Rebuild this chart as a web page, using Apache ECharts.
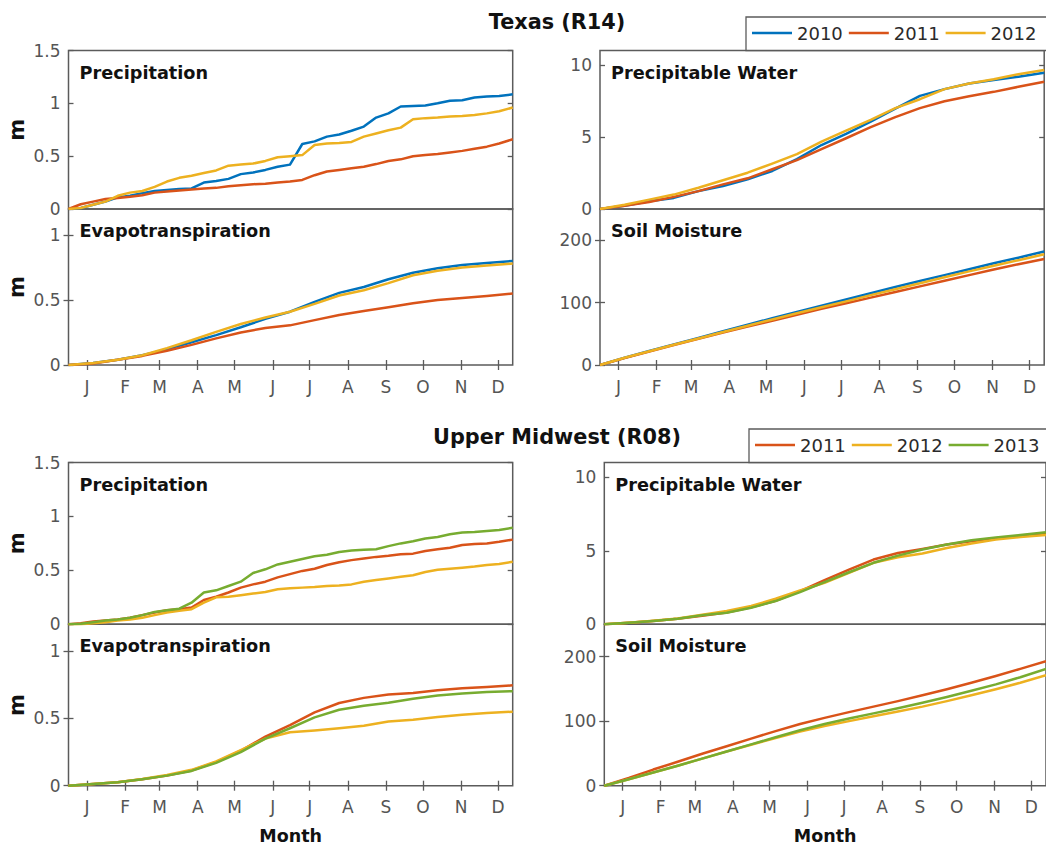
<!DOCTYPE html>
<html>
<head>
<meta charset="utf-8">
<script src="https://cdn.jsdelivr.net/npm/echarts@6/dist/echarts.min.js"></script>
<style>
  html, body { margin: 0; padding: 0; background: #ffffff; overflow: hidden; }
  #chart { width: 1046px; height: 849px; }
</style>
</head>
<body>
<div id="chart"></div>
<script>
// ---- Axis ticks -------------------------------------------------------
const monthDays = [15, 46, 74, 105, 135, 166, 196, 227, 258, 288, 319, 349];
const monthLetters = ['J', 'F', 'M', 'A', 'M', 'J', 'J', 'A', 'S', 'O', 'N', 'D'];
const precipTicks = [0, 0.5, 1, 1.5];
const etTicks = [0, 0.5, 1];
const pwTicks = [0, 5, 10];
const smTicks = [0, 100, 200];

// ---- Day-of-year sample points ---------------------------------------
const precipDays = [0, 10, 20, 30, 40, 50, 60, 70, 80, 90, 100, 110, 120, 130, 140, 150, 160, 170, 180,
  190, 200, 210, 220, 230, 240, 250, 260, 270, 280, 290, 300, 310, 320, 330, 340, 350, 361];
const smoothDays = [0, 20, 40, 60, 80, 100, 120, 140, 160, 180, 200, 220, 240, 260, 280, 300, 320, 340, 361];

// ---- Texas (R14): cumulative values ----------------------------------
const txPrecip2010 = [0, 0.01, 0.04, 0.07, 0.11, 0.125, 0.15, 0.17, 0.18, 0.19, 0.195, 0.25, 0.265, 0.285, 0.33, 0.345, 0.37, 0.40, 0.42,
  0.615, 0.64, 0.685, 0.705, 0.74, 0.78, 0.865, 0.905, 0.97, 0.975, 0.98, 1.0, 1.025, 1.03, 1.055, 1.065, 1.07, 1.085];
const txPrecip2011 = [0, 0.045, 0.07, 0.095, 0.105, 0.115, 0.13, 0.155, 0.165, 0.175, 0.185, 0.195, 0.20, 0.215, 0.225, 0.235, 0.24, 0.25, 0.26,
  0.275, 0.32, 0.355, 0.37, 0.385, 0.40, 0.425, 0.455, 0.47, 0.50, 0.51, 0.52, 0.535, 0.55, 0.57, 0.59, 0.62, 0.66];
const txPrecip2012 = [0, 0.01, 0.04, 0.07, 0.125, 0.155, 0.17, 0.21, 0.26, 0.295, 0.315, 0.34, 0.365, 0.41, 0.42, 0.43, 0.455, 0.49, 0.50,
  0.51, 0.605, 0.62, 0.625, 0.635, 0.685, 0.715, 0.745, 0.77, 0.85, 0.86, 0.865, 0.875, 0.88, 0.89, 0.905, 0.925, 0.96];

const txEt2010 = [0, 0.015, 0.04, 0.075, 0.12, 0.175, 0.23, 0.29, 0.355, 0.41, 0.485, 0.555, 0.60, 0.66, 0.71, 0.745, 0.77, 0.785, 0.80];
const txEt2011 = [0, 0.012, 0.04, 0.07, 0.11, 0.155, 0.205, 0.25, 0.285, 0.305, 0.345, 0.385, 0.415, 0.445, 0.475, 0.50, 0.515, 0.53, 0.55];
const txEt2012 = [0, 0.015, 0.04, 0.075, 0.13, 0.19, 0.255, 0.315, 0.365, 0.41, 0.47, 0.535, 0.575, 0.63, 0.69, 0.725, 0.75, 0.765, 0.78];

const txPw2010 = [0, 0.23, 0.54, 0.77, 1.24, 1.59, 2.06, 2.64, 3.46, 4.44, 5.21, 6.07, 6.96, 7.85, 8.32, 8.71, 8.95, 9.18, 9.46];
const txPw2011 = [0, 0.23, 0.49, 0.84, 1.24, 1.71, 2.13, 2.76, 3.39, 4.16, 4.91, 5.68, 6.38, 7.0, 7.48, 7.83, 8.13, 8.48, 8.83];
const txPw2012 = [0, 0.30, 0.65, 1.0, 1.47, 2.0, 2.52, 3.15, 3.81, 4.67, 5.44, 6.19, 7.0, 7.62, 8.32, 8.71, 9.0, 9.35, 9.65];

const txSm2010 = [0, 11.5, 22.5, 33, 43.5, 54, 64.5, 75, 85, 95, 105, 115, 125, 134.5, 144, 153.5, 163, 172, 182];
const txSm2011 = [0, 11, 21.5, 32, 42, 52, 61.5, 71, 80.5, 90, 99, 108, 117, 126, 135, 144, 153, 161.5, 170];
const txSm2012 = [0, 11.5, 22, 32.5, 42.5, 53, 63, 73, 83, 92.5, 102, 112, 121.5, 131, 140.5, 150, 159, 168, 177.5];

// ---- Upper Midwest (R08): cumulative values --------------------------
const umPrecip2011 = [0, 0.01, 0.025, 0.035, 0.045, 0.06, 0.085, 0.11, 0.13, 0.14, 0.155, 0.225, 0.255, 0.295, 0.34, 0.37, 0.395, 0.435, 0.465,
  0.495, 0.515, 0.55, 0.575, 0.595, 0.61, 0.625, 0.635, 0.65, 0.655, 0.68, 0.695, 0.71, 0.735, 0.745, 0.75, 0.765, 0.785];
const umPrecip2012 = [0, 0, 0.01, 0.02, 0.035, 0.045, 0.06, 0.085, 0.11, 0.125, 0.14, 0.2, 0.25, 0.255, 0.27, 0.285, 0.30, 0.325, 0.335,
  0.34, 0.345, 0.355, 0.36, 0.37, 0.395, 0.41, 0.425, 0.44, 0.455, 0.485, 0.505, 0.515, 0.525, 0.535, 0.55, 0.56, 0.58];
const umPrecip2013 = [0, 0.005, 0.02, 0.035, 0.045, 0.06, 0.085, 0.115, 0.13, 0.145, 0.2, 0.295, 0.315, 0.355, 0.395, 0.475, 0.51, 0.555, 0.58,
  0.605, 0.63, 0.645, 0.67, 0.685, 0.69, 0.695, 0.725, 0.75, 0.77, 0.795, 0.81, 0.835, 0.85, 0.855, 0.865, 0.875, 0.895];

const umEt2011 = [0, 0.013, 0.025, 0.048, 0.075, 0.113, 0.176, 0.26, 0.365, 0.45, 0.545, 0.615, 0.653, 0.678, 0.69, 0.709, 0.724, 0.734, 0.746];
const umEt2012 = [0, 0.013, 0.025, 0.05, 0.08, 0.118, 0.18, 0.265, 0.35, 0.397, 0.41, 0.427, 0.445, 0.477, 0.49, 0.51, 0.528, 0.54, 0.55];
const umEt2013 = [0, 0.013, 0.025, 0.048, 0.075, 0.11, 0.17, 0.25, 0.35, 0.427, 0.508, 0.565, 0.595, 0.616, 0.646, 0.671, 0.686, 0.696, 0.703];

const umPw2011 = [0, 0.1, 0.22, 0.37, 0.58, 0.8, 1.15, 1.6, 2.26, 3.0, 3.72, 4.4, 4.85, 5.12, 5.42, 5.64, 5.85, 5.98, 6.16];
const umPw2012 = [0, 0.11, 0.24, 0.4, 0.65, 0.9, 1.24, 1.74, 2.3, 2.82, 3.5, 4.18, 4.56, 4.81, 5.19, 5.49, 5.76, 5.94, 6.07];
const umPw2013 = [0, 0.11, 0.23, 0.38, 0.61, 0.79, 1.13, 1.58, 2.19, 2.87, 3.54, 4.18, 4.67, 5.08, 5.42, 5.71, 5.91, 6.07, 6.25];

const umSm2011 = [0, 12, 25, 37, 49.5, 61, 73, 84.5, 95.5, 105, 114, 122.5, 131, 140, 149.5, 159.5, 170, 181, 193];
const umSm2012 = [0, 10, 20.5, 31, 42, 53, 63.5, 74, 84, 92.5, 100, 107.5, 115, 122.5, 131, 140, 149.5, 159.5, 171];
const umSm2013 = [0, 10, 20.5, 31, 42, 53, 64, 75, 86, 95.5, 104, 112, 120, 128.5, 137.5, 147, 157, 168, 181];

// ---- Styling and layout ----------------------------------------------
const FONT = '"DejaVu Sans", Lato, sans-serif';
const AXIS_COLOR = '#5b5b5b';
const LABEL_COLOR = '#555555';
const TEXT_COLOR = '#111111';
const yearColors = { '2010': '#0072BD', '2011': '#D95319', '2012': '#EDB120', '2013': '#77AC30' };
const X_MAX = 361;

const sections = {
  tx: { top: 50.5, mid: 209, bottom: 365, leftX: 68.5, rightX: 600, width: 444.2 },
  um: { top: 462.5, mid: 624.3, bottom: 785.7, leftX: 68.5, rightX: 604.3, width: 444.2 }
};

const kinds = {
  precip: { max: 1.5, ticks: precipTicks, days: precipDays },
  et:     { max: 1.2, ticks: etTicks,     days: smoothDays },
  pw:     { max: 11,  ticks: pwTicks,     days: smoothDays },
  sm:     { max: 250, ticks: smTicks,     days: smoothDays }
};

const panels = [
  { sec: 'tx', col: 'left',  row: 'upper', kind: 'precip', label: 'Precipitation',
    lines: [['2010', txPrecip2010], ['2011', txPrecip2011], ['2012', txPrecip2012]] },
  { sec: 'tx', col: 'left',  row: 'lower', kind: 'et', label: 'Evapotranspiration',
    lines: [['2010', txEt2010], ['2011', txEt2011], ['2012', txEt2012]] },
  { sec: 'tx', col: 'right', row: 'upper', kind: 'pw', label: 'Precipitable Water',
    lines: [['2010', txPw2010], ['2011', txPw2011], ['2012', txPw2012]] },
  { sec: 'tx', col: 'right', row: 'lower', kind: 'sm', label: 'Soil Moisture',
    lines: [['2010', txSm2010], ['2011', txSm2011], ['2012', txSm2012]] },
  { sec: 'um', col: 'left',  row: 'upper', kind: 'precip', label: 'Precipitation',
    lines: [['2011', umPrecip2011], ['2012', umPrecip2012], ['2013', umPrecip2013]] },
  { sec: 'um', col: 'left',  row: 'lower', kind: 'et', label: 'Evapotranspiration',
    lines: [['2011', umEt2011], ['2012', umEt2012], ['2013', umEt2013]] },
  { sec: 'um', col: 'right', row: 'upper', kind: 'pw', label: 'Precipitable Water',
    lines: [['2011', umPw2011], ['2012', umPw2012], ['2013', umPw2013]] },
  { sec: 'um', col: 'right', row: 'lower', kind: 'sm', label: 'Soil Moisture',
    lines: [['2011', umSm2011], ['2012', umSm2012], ['2013', umSm2013]] }
];

const grid = [], xAxis = [], yAxis = [], series = [], graphic = [];

const tickStyle = { color: AXIS_COLOR, width: 1.3 };

panels.forEach((p, gi) => {
  const s = sections[p.sec];
  const k = kinds[p.kind];
  const left = p.col === 'left' ? s.leftX : s.rightX;
  const top = p.row === 'upper' ? s.top : s.mid;
  const height = p.row === 'upper' ? s.mid - s.top : s.bottom - s.mid;
  const isLower = p.row === 'lower';

  grid.push({ left, top, width: s.width, height, show: true,
    borderColor: AXIS_COLOR, borderWidth: 1.5, backgroundColor: 'transparent' });

  // bottom x axis (month letters on the lower panels)
  const xi = xAxis.length;
  xAxis.push({
    type: 'value', gridIndex: gi, min: 0, max: X_MAX, position: 'bottom',
    axisLine: { show: false }, splitLine: { show: false },
    axisTick: { show: isLower, inside: true, length: 5, customValues: monthDays, lineStyle: tickStyle },
    axisLabel: { show: isLower, customValues: monthDays, margin: 13,
      fontSize: 17, fontFamily: FONT, color: LABEL_COLOR,
      formatter: v => monthLetters[monthDays.indexOf(v)] || '' },
    name: (isLower && p.sec === 'um') ? 'Month' : '',
    nameLocation: 'middle', nameGap: 41,
    nameTextStyle: { fontSize: 17.5, fontWeight: 'bold', fontFamily: FONT, color: TEXT_COLOR }
  });
  // mirrored ticks along the top edge of the lower panels
  if (isLower) {
    xAxis.push({
      type: 'value', gridIndex: gi, min: 0, max: X_MAX, position: 'top',
      axisLine: { show: false }, splitLine: { show: false },
      axisTick: { show: true, inside: true, length: 5, customValues: monthDays, lineStyle: tickStyle },
      axisLabel: { show: false }
    });
  }

  const yi = yAxis.length;
  yAxis.push({
    type: 'value', gridIndex: gi, min: 0, max: k.max, position: 'left',
    axisLine: { show: false }, splitLine: { show: false },
    axisTick: { show: true, inside: true, length: 5, customValues: k.ticks, lineStyle: tickStyle },
    axisLabel: { customValues: k.ticks, margin: 8, fontSize: 17, fontFamily: FONT, color: LABEL_COLOR,
      formatter: v => String(v) },
    name: p.col === 'left' ? 'm' : '',
    nameLocation: 'middle', nameGap: 41,
    nameTextStyle: { fontSize: 21, fontWeight: 'bold', fontFamily: FONT, color: TEXT_COLOR }
  });
  yAxis.push({
    type: 'value', gridIndex: gi, min: 0, max: k.max, position: 'right',
    axisLine: { show: false }, splitLine: { show: false },
    axisTick: { show: true, inside: true, length: 5, customValues: k.ticks, lineStyle: tickStyle },
    axisLabel: { show: false }
  });

  p.lines.forEach(([name, values]) => {
    series.push({
      type: 'line', name, xAxisIndex: xi, yAxisIndex: yi,
      data: k.days.map((d, j) => [d, values[j]]),
      symbol: 'none', showSymbol: false, smooth: false,
      lineStyle: { width: 2.5, color: yearColors[name], join: 'round' },
      itemStyle: { color: yearColors[name] },
      emphasis: { disabled: true }
    });
  });

  graphic.push({
    type: 'text', x: left + 11, y: top + 22, z: 10,
    style: { text: p.label, fontSize: 17.7, fontWeight: 'bold', fontFamily: FONT, fill: TEXT_COLOR,
      textAlign: 'left', align: 'left', textVerticalAlign: 'middle', verticalAlign: 'middle' }
  });
});

// section headings
[['Texas (R14)', 557, 22], ['Upper Midwest (R08)', 557, 437]].forEach(([text, x, y]) => {
  graphic.push({
    type: 'text', x, y, z: 10,
    style: { text, fontSize: 20.8, fontWeight: 'bold', fontFamily: FONT, fill: TEXT_COLOR,
      textAlign: 'center', align: 'center', textVerticalAlign: 'middle', verticalAlign: 'middle' }
  });
});

// legend frames: open on the right, where they run past the edge of the page
const legendFrames = [
  { left: 746, top: 17, bottom: 50.5 },
  { left: 749, top: 429, bottom: 462.5 }
];
legendFrames.forEach(f => {
  graphic.push({
    type: 'rect', z: 3, silent: true,
    shape: { x: f.left, y: f.top, width: 320, height: f.bottom - f.top },
    style: { fill: '#ffffff', stroke: null }
  });
  graphic.push({
    type: 'polyline', z: 3, silent: true,
    shape: { points: [[1080, f.top], [f.left, f.top], [f.left, f.bottom], [1080, f.bottom]] },
    style: { fill: null, stroke: AXIS_COLOR, lineWidth: 1.3 }
  });
});

const legendBase = {
  orient: 'horizontal', icon: 'rect', itemWidth: 40, itemHeight: 2.5, itemGap: 6,
  padding: 0, z: 5, selectedMode: false,
  textStyle: { fontSize: 18, fontFamily: FONT, color: '#2a2a2a' }
};

const option = {
  animation: false,
  backgroundColor: '#ffffff',
  grid, xAxis, yAxis, series, graphic,
  legend: [
    Object.assign({}, legendBase, { data: ['2010', '2011', '2012'], left: 752, top: 24 }),
    Object.assign({}, legendBase, { data: ['2011', '2012', '2013'], left: 755, top: 436 })
  ]
};

const chart = echarts.init(document.getElementById('chart'), null, { renderer: 'svg' });
chart.setOption(option);
</script>
</body>
</html>
